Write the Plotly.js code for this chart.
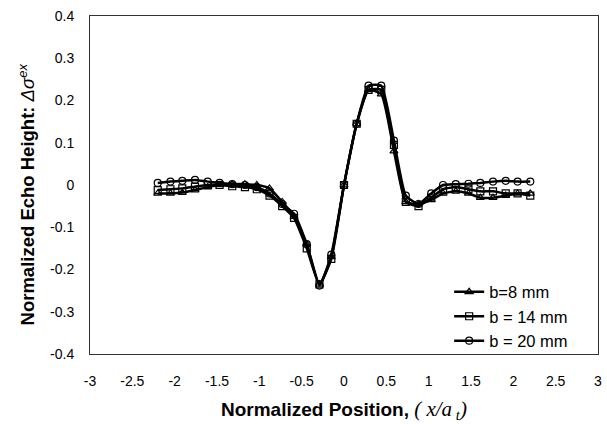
<!DOCTYPE html>
<html>
<head>
<meta charset="utf-8">
<script src="https://cdn.plot.ly/plotly-3.0.1.min.js"></script>
<style>
  html, body { margin: 0; padding: 0; background: #fff; }
  #chart { width: 607px; height: 424px; }
</style>
</head>
<body>
<div id="chart"></div>
<script>
// Normalized scan positions x/a_t
const positions = [-2.2, -2.05, -1.91, -1.76, -1.61, -1.47, -1.32, -1.17, -1.03, -0.88, -0.73, -0.59, -0.44, -0.29, -0.15, 0,
                   0.15, 0.29, 0.44, 0.59, 0.73, 0.88, 1.03, 1.17, 1.32, 1.47, 1.61, 1.76, 1.91, 2.05, 2.2];

// Normalized echo height for each plate width b
const echoB8 = [-0.02, -0.02, -0.018, -0.012, -0.005, 0, 0.002, 0.002, 0, -0.008, -0.04, -0.075, -0.14, -0.235, -0.17, 0,
                0.145, 0.225, 0.215, 0.08, -0.04, -0.045, -0.035, -0.02, -0.015, -0.02, -0.03, -0.03, -0.025, -0.02, -0.02];
const echoB14 = [-0.012, -0.01, -0.008, -0.004, 0, 0, -0.003, -0.005, -0.01, -0.025, -0.05, -0.078, -0.15, -0.235, -0.175, 0,
                 0.145, 0.225, 0.225, 0.095, -0.04, -0.05, -0.03, -0.01, -0.005, -0.01, -0.015, -0.015, -0.02, -0.02, -0.025];
const echoB20 = [0.005, 0.008, 0.01, 0.012, 0.008, 0.005, 0.002, 0, -0.005, -0.02, -0.045, -0.068, -0.14, -0.238, -0.165, 0,
                 0.145, 0.235, 0.235, 0.105, -0.025, -0.045, -0.02, 0, 0.002, 0.003, 0.005, 0.008, 0.01, 0.008, 0.008];

const seriesNames = ['b=8 mm', 'b = 14 mm', 'b = 20 mm'];
const seriesValues = [echoB8, echoB14, echoB20];
const markerSymbols = ['triangle-up-open', 'square-open', 'circle-open'];

const xTicks = [-3, -2.5, -2, -1.5, -1, -0.5, 0, 0.5, 1, 1.5, 2, 2.5, 3];
const yTicks = [-0.4, -0.3, -0.2, -0.1, 0, 0.1, 0.2, 0.3, 0.4];

const traces = seriesValues.map((vals, i) => ({
  x: positions,
  y: vals,
  name: seriesNames[i],
  type: 'scatter',
  mode: 'lines+markers',
  line: { color: '#000', width: 2.5, shape: 'spline', smoothing: 0.5 },
  marker: { symbol: markerSymbols[i], size: 7, color: '#000', line: { width: 1.2, color: '#000' } }
}));

const font = 'Arial, "Liberation Sans", sans-serif';
const serif = "'Liberation Serif','Times New Roman',serif";

const layout = {
  width: 607,
  height: 424,
  margin: { l: 90, r: 9, t: 16, b: 70 },
  paper_bgcolor: '#fff',
  plot_bgcolor: '#fff',
  font: { family: font, size: 14, color: '#000' },
  showlegend: true,
  legend: {
    x: 0.707, y: 0.235, xanchor: 'left', yanchor: 'top',
    bgcolor: 'rgba(0,0,0,0)',
    font: { family: font, size: 16.5, color: '#000' },
    tracegroupgap: 0,
    itemwidth: 30
  },
  xaxis: {
    range: [-3, 3],
    tickvals: xTicks,
    ticktext: xTicks.map(String),
    showgrid: false,
    zeroline: false,
    showline: true,
    mirror: true,
    linecolor: '#333',
    linewidth: 1,
    ticks: 'outside',
    ticklen: 14,
    tickcolor: 'rgba(0,0,0,0)',
    tickfont: { family: font, size: 14, color: '#000' }
  },
  yaxis: {
    range: [-0.4, 0.4],
    tickvals: yTicks,
    ticktext: yTicks.map(v => String(v)),
    showgrid: false,
    zeroline: false,
    showline: true,
    mirror: true,
    linecolor: '#333',
    linewidth: 1,
    ticks: 'outside',
    ticklen: 12,
    tickcolor: 'rgba(0,0,0,0)',
    tickfont: { family: font, size: 14, color: '#000' }
  },
  annotations: [
    {
      // x-axis title
      xref: 'paper', yref: 'paper', x: 0.5, y: -0.166,
      xanchor: 'center', yanchor: 'middle', showarrow: false,
      font: { family: font, size: 19, color: '#000' },
      text: '<b>Normalized Position, </b><span style="font-family:' + serif + ';font-size:21px"><i>( x/a</i><sub><i> t</i></sub><i>)</i></span>'
    },
    {
      // y-axis title
      xref: 'paper', yref: 'paper', x: -0.124, y: 0.472,
      xanchor: 'center', yanchor: 'middle', showarrow: false, textangle: -90,
      font: { family: font, size: 18.5, color: '#000' },
      text: '<b>Normalized Echo Height: </b><i>\u0394\u03c3</i><sup><i>ex</i></sup>'
    }
  ]
};

Plotly.newPlot('chart', traces, layout, { displayModeBar: false, staticPlot: true });
</script>
</body>
</html>
